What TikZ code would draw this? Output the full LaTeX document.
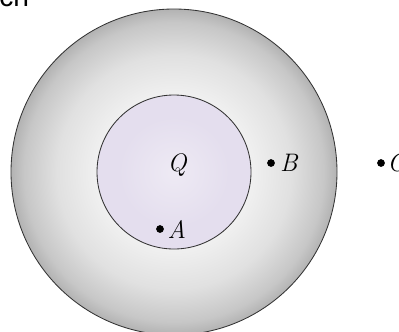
\documentclass[tikz,border=0pt]{standalone}
\usepackage{amsmath,amssymb}
\usepackage{fontspec}
\newfontfamily\headfont{Liberation Sans}
\usetikzlibrary{positioning}
\definecolor{lavender}{HTML}{E4DEEE}
\definecolor{lavlight}{HTML}{EEEAF4}
\pgfdeclareradialshading{shell}{\pgfpoint{0bp}{0bp}}{color(0bp)=(white); color(11bp)=(black!5); color(18bp)=(black!12); color(23bp)=(black!22); color(25bp)=(black!30); color(50bp)=(black!30)}
\pgfdeclareradialshading{core}{\pgfpoint{0bp}{0bp}}{color(0bp)=(lavlight); color(18bp)=(lavender); color(25bp)=(lavender); color(50bp)=(lavender)}

\begin{document}
\begin{tikzpicture}[x=0.025cm,y=0.025cm,every node/.style={font=\fontsize{18}{22}\selectfont\itshape},
  dot/.style={circle,fill,inner sep=0pt,minimum size=5.5pt}]
\useasboundingbox (0,0) rectangle (399,331);
\node[anchor=base west,inner sep=0pt,font=\headfont\fontsize{20}{24}\selectfont] (head) at (-1,325) {ch};
\shade[shading=shell,draw=black!80,line width=0.6pt] (174,159) circle[radius=163];
\shade[shading=core,draw=black!80,line width=0.6pt] (174,159) circle[radius=77];
\node (q) at (177,166) {Q};
\node[dot] (a) at (160,102) {};
\node[dot] (b) at (271,168) {};
\node[dot] (c) at (381,168) {};
\node[right=-1pt of a] {A};
\node[right=0pt of b] {B};
\node[right=-2pt of c] {C};
\end{tikzpicture}
\end{document}
